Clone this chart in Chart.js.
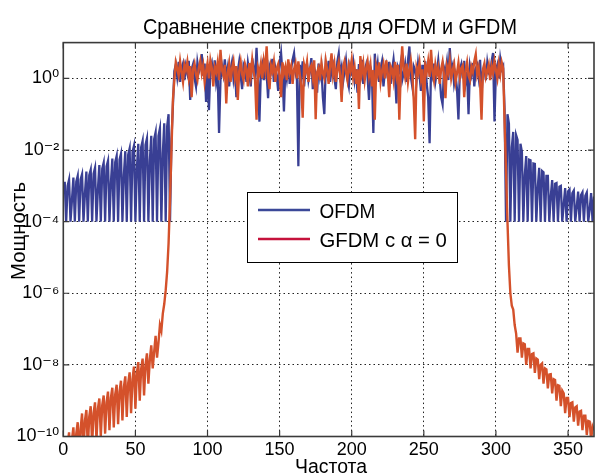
<!DOCTYPE html>
<html><head><meta charset="utf-8">
<script src="https://cdn.jsdelivr.net/npm/chart.js@4.4.0/dist/chart.umd.min.js"></script>
<style>html,body{margin:0;padding:0;background:#fff;}#wrap{width:596px;height:475px;}</style>
</head><body><div id="wrap"><canvas id="c" width="596" height="475"></canvas></div>
<script>
// ---- texts ----
const chartTitle = "Сравнение спектров для OFDM и GFDM";
const xAxisTitle = "Частота";
const yAxisTitle = "Мощность";
const seriesNames = ["OFDM", "GFDM с α = 0"];

// ---- ticks ----
const xTicks = [0, 50, 100, 150, 200, 250, 300, 350];
const yTicks = [1e-10, 1e-8, 1e-6, 1e-4, 1e-2, 1e0];
const yTickLabels = ["10⁻¹⁰", "10⁻⁸", "10⁻⁶", "10⁻⁴", "10⁻²", "10⁰"];

// ---- frequency bins (categories) 1..368 ----
const freq = [];
for (let i = 1; i <= 368; i++) freq.push(i);

// ---- OFDM spectrum ----
const ofdmLeft = [1.3e-3,1e-4,1.0e-3, 1.5e-3,1e-4,4e-4, 1.7e-3,1e-4,1.3e-3, 1.9e-3,1e-4,1.5e-3, 2.1e-3,1e-4,6e-4,
  2.5e-3,1e-4,2.0e-3, 2.8e-3,1e-4,2.2e-3, 3.2e-3,1e-4,8e-4, 3.8e-3,1e-4,3.0e-3, 4.4e-3,1e-4,3.5e-3,
  5.0e-3,1e-4,1.2e-3, 5.8e-3,1e-4,4.6e-3, 6.8e-3,1e-4,5.4e-3, 7.9e-3,1e-4,2e-3, 9.3e-3,1e-4,7.4e-3,
  1.1e-2,1e-4,8.8e-3, 1.3e-2,1e-4,3e-3, 1.5e-2,1e-4,1.2e-2, 1.8e-2,1e-4,1.4e-2, 2.1e-2,1e-4,5e-3,
  2.5e-2,1e-4,2e-2, 3.1e-2,1e-4,2.5e-2, 4.0e-2,1e-4,8e-3, 5.6e-2,1e-4,4.5e-2, 1.0e-1,1e-4,2e-2, 0.17];
const ofdmBand = [
  1.6,2.4,1.1,2.9,0.8,1.9,2.6,0.9,2.2,1.4,
  3.1,0.25,1.8,2.5,1.0,0.6,2.8,1.5,2.0,4.8,
  1.2,2.6,0.22,1.7,0.13,1.9,2.7,1.0,3.2,0.8,
  1.5,0.03,0.9,2.3,1.3,3.4,1.1,2.0,0.6,1.8,
  2.9,1.0,2.2,0.3,1.6,3.0,1.2,0.5,2.4,1.9,
  0.8,2.7,1.4,0.6,3.6,1.9,1.1,7.1,0.9,0.062,
  1.7,2.5,0.9,3.2,1.4,0.28,2.2,1.6,3.5,0.8,
  2.0,1.2,0.45,2.6,5.1,1.3,0.12,2.1,1.0,2.8,
  0.7,1.9,3.3,5.0,1.5,0.9,0.0035,2.4,1.1,3.0,
  0.6,1.8,2.5,0.9,1.6,3.7,0.5,2.0,1.3,0.4,
  2.6,1.1,1.9,0.3,0.1,2.3,1.4,3.1,0.8,1.7,
  2.4,1.0,0.5,2.9,5.0,1.3,2.1,0.8,1.6,3.2,
  1.0,0.6,2.2,1.5,2.8,0.9,1.8,0.4,2.5,1.2,
  3.3,0.7,1.6,2.4,1.1,0.25,2.0,1.4,0.03,4.9,
  1.3,2.6,0.8,1.9,3.0,0.6,1.5,2.3,1.0,2.9,
  0.7,1.7,3.4,1.2,0.2,2.1,1.6,2.8,0.9,1.4,
  2.5,0.8,3.1,7.8,1.1,0.6,2.2,1.7,0.9,2.7,
  1.3,0.45,2.4,1.0,3.0,0.7,0.3,0.0155,1.9,1.2,
  2.6,0.8,1.5,3.2,1.1,0.3,0.19,2.0,1.4,2.9,
  0.9,7.0,1.6,2.3,0.7,1.2,0.5,0.071,1.8,2.5,
  1.0,3.1,0.8,1.5,0.1,2.2,1.3,2.7,0.6,1.9,
  2.4,1.1,3.3,0.35,1.6,2.0,0.9,2.8,1.4,1.2,
  3.0,5.1,0.063,1.7,2.4,1.0,3.5,1.8,2.2];
const ofdmRight = [0.13,1e-4,0.1, 5.5e-2,1e-4,1.2e-2, 3.2e-2,1e-4,2.6e-2, 1.9e-2,1e-4,1.5e-2, 8.9e-3,1e-4,2e-3,
  6.8e-3,1e-4,5.4e-3, 5.2e-3,1e-4,4.2e-3, 4.1e-3,1e-4,9e-4, 3.2e-3,1e-4,2.6e-3, 2.4e-3,1e-4,1.9e-3,
  1.9e-3,1e-4,5e-4, 1.45e-3,1e-4,1.15e-3, 1.2e-3,1e-4,9.5e-4, 1.0e-3,1e-4,3e-4, 8.7e-4,1e-4,7e-4,
  7.9e-4,1e-4,6.3e-4, 7.4e-4,1e-4,2.5e-4, 6.9e-4,1e-4,5.5e-4, 6.6e-4,1e-4,5.3e-4, 6.5e-4,1e-4,2.2e-4, 6.3e-4,1e-4,5e-4];

// ---- GFDM (alpha = 0) spectrum ----
const gfdmLeft = [9e-11,1.6e-11,6e-11, 1.3e-10,2e-11,8e-11, 1.8e-10,2.5e-11,1.2e-10, 2.5e-10,3e-11,1.6e-10,
  4.4e-10,4e-11,2.8e-10, 5.5e-10,5e-11,3.6e-10, 7e-10,6e-11,4.5e-10, 9e-10,8e-11,6e-10, 1.15e-9,1e-10,7.5e-10,
  1.4e-9,1.2e-10,9e-10, 1.8e-9,1.5e-10,1.2e-9, 2.3e-9,1.8e-10,1.5e-9, 2.8e-9,2.2e-10,1.8e-9, 3.6e-9,2.8e-10,2.4e-9,
  4.8e-9,3.5e-10,3.1e-9, 6.2e-9,4.5e-10,4e-9, 9e-9,6e-10,5.8e-9, 1.2e-8,1e-9,7.8e-9, 1.5e-8,1.4e-9,1e-8,
  2.1e-8,3e-9,1.4e-8, 3.5e-8,8e-9,2.3e-8, 6.5e-8,1.6e-8,4.2e-8, 1.3e-7,9e-8,2.7e-7, 5e-7,1.2e-6,4e-6,
  2.5e-5,4e-4,1e-2, 0.25];
const gfdmBand = [
  0.9,2.8,1.9,1.2,3.0,1.5,0.8,2.4,1.7,2.9,
  1.1,2.2,0.3,1.8,2.6,1.3,0.9,2.0,3.1,1.4,
  2.3,0.8,1.6,2.7,1.0,3.2,1.9,0.6,2.1,1.5,
  2.8,0.9,6.3,1.7,1.2,2.4,0.2,1.4,2.6,0.8,
  1.9,3.0,1.1,2.2,0.25,1.6,2.9,1.3,0.9,2.5,
  1.8,0.6,2.7,1.2,3.3,1.5,0.9,0.07,2.0,1.4,
  2.6,1.0,3.1,1.7,7.9,1.1,0.5,2.3,1.6,2.9,
  0.8,1.9,2.5,1.2,0.3,2.8,1.4,2.1,0.9,3.4,
  1.5,2.2,0.7,1.8,2.6,1.0,3.0,1.3,0.6,0.08,
  2.4,1.6,2.9,0.8,1.9,2.3,1.1,3.2,0.072,1.5,
  2.0,0.9,2.7,1.4,1.0,3.1,1.7,0.7,2.2,5.0,
  1.3,2.5,0.8,1.8,2.8,1.2,0.22,2.1,3.0,1.5,
  0.9,2.4,1.6,3.3,1.1,2.0,0.7,1.8,0.14,4.2,
  1.4,2.6,0.9,1.9,3.0,1.2,2.3,0.6,1.7,0.07,
  2.1,1.3,2.8,0.8,1.6,2.5,1.0,3.2,1.4,0.3,
  2.2,1.8,0.9,2.9,1.2,2.4,0.07,1.5,7.9,1.9,
  1.1,2.6,0.8,1.7,3.1,1.3,0.25,0.02,2.0,1.4,
  2.7,1.0,1.8,0.063,2.3,1.5,3.0,1.1,6.3,1.6,
  0.9,2.4,1.3,2.0,0.7,1.8,2.9,1.2,0.28,2.2,
  1.5,3.1,1.0,1.7,2.5,0.8,1.4,2.7,1.1,1.9,
  2.3,0.3,1.6,2.8,1.2,0.9,2.1,1.5,3.0,4.7,
  1.3,2.0,0.8,0.07,1.8,2.6,1.1,1.6,2.4,0.9,
  2.2,1.4,3.0,1.7,1.0,2.5,1.3,2.8,1.9];
const gfdmRight = [0.06,2.5e-3,1e-4,6e-6,1e-6,4.5e-7,3.5e-7,1.3e-7,
  7.5e-8,2.2e-8,5.5e-8, 5.5e-8,1.6e-8,4e-8, 3.8e-8,1e-8,2.8e-8, 2.8e-8,8e-9,2e-8, 2.1e-8,6e-9,1.5e-8,
  1.4e-8,4e-9,1e-8, 1.1e-8,3e-9,8e-9, 7.5e-9,2.2e-9,5.4e-9, 5.5e-9,1.6e-9,4e-9, 3.8e-9,1e-9,2.7e-9,
  2.6e-9,7e-10,1.9e-9, 1.6e-9,4.5e-10,1.2e-9, 1.2e-9,3.5e-10,8.6e-10, 9e-10,2.6e-10,6.5e-10, 7e-10,2e-10,5e-10,
  5.2e-10,1.5e-10,3.8e-10, 3.8e-10,1.1e-10,2.7e-10, 2.6e-10,8e-11,1.9e-10, 1.5e-10];

const ofdm = [...ofdmLeft, ...ofdmBand, ...ofdmRight];
const gfdm = [...gfdmLeft, ...gfdmBand, ...gfdmRight];

// ---- style ----
const FONT = "'Liberation Sans', Arial, 'DejaVu Sans', sans-serif";
const blueLine = '#393f94';
const redLine = '#d4512b';
const legendBlue = '#3b4898';
const legendRed = '#c5123b';

function fitText(ctx, text, x, y, w, size, align, rot) {
  ctx.save();
  ctx.font = size + 'px ' + FONT;
  ctx.fillStyle = '#000';
  ctx.textBaseline = 'alphabetic';
  ctx.textAlign = 'left';
  const m = ctx.measureText(text).width;
  const sx = w / m;
  ctx.translate(x, y);
  if (rot) ctx.rotate(rot);
  ctx.scale(sx, 1);
  const off = align === 'center' ? -m / 2 : 0;
  ctx.fillText(text, off, 0);
  ctx.restore();
}

const decorPlugin = {
  id: 'decor',
  afterDraw(chart) {
    const ctx = chart.ctx, a = chart.chartArea;
    const xs = chart.scales.x, ys = chart.scales.y;
    ctx.save();
    ctx.strokeStyle = '#3a3a3a';
    ctx.lineWidth = 1.6;
    ctx.strokeRect(a.left, a.top, a.right - a.left, a.bottom - a.top);
    ctx.lineWidth = 1.2;
    ctx.beginPath();
    xTicks.forEach(v => {
      const p = xs.getPixelForValue(v);
      ctx.moveTo(p, a.bottom); ctx.lineTo(p, a.bottom - 6);
      ctx.moveTo(p, a.top); ctx.lineTo(p, a.top + 6);
    });
    yTicks.forEach(v => {
      const p = ys.getPixelForValue(v);
      ctx.moveTo(a.left, p); ctx.lineTo(a.left + 6, p);
      ctx.moveTo(a.right, p); ctx.lineTo(a.right - 6, p);
    });
    ctx.stroke();
    ctx.restore();

    fitText(ctx, chartTitle, 330, 33.5, 374, 22, 'center');
    fitText(ctx, xAxisTitle, 331, 473, 72, 20, 'center');
    fitText(ctx, yAxisTitle, 24.5, 231, 98, 20, 'center', -Math.PI / 2);

    ctx.save();
    ctx.fillStyle = '#fff';
    ctx.fillRect(247.5, 192.5, 210, 70);
    ctx.strokeStyle = '#000';
    ctx.lineWidth = 1;
    ctx.strokeRect(247.5, 192.5, 210, 70);
    ctx.lineWidth = 2.7;
    ctx.lineCap = 'butt';
    ctx.strokeStyle = legendBlue;
    ctx.beginPath(); ctx.moveTo(258, 210); ctx.lineTo(310, 210); ctx.stroke();
    ctx.strokeStyle = legendRed;
    ctx.beginPath(); ctx.moveTo(258, 239); ctx.lineTo(310, 239); ctx.stroke();
    ctx.restore();
    fitText(ctx, seriesNames[0], 319.5, 217.5, 55.7, 20, 'left');
    fitText(ctx, seriesNames[1], 319.5, 246.5, 127.4, 20, 'left');
  }
};

new Chart(document.getElementById('c'), {
  type: 'line',
  data: {
    datasets: [
      { label: seriesNames[1], data: freq.map((f, i) => ({ x: f, y: gfdm[i] })),
        borderColor: redLine, borderWidth: 2.4, pointRadius: 0, tension: 0, fill: false, order: 0 },
      { label: seriesNames[0], data: freq.map((f, i) => ({ x: f, y: ofdm[i] })),
        borderColor: blueLine, borderWidth: 2.3, pointRadius: 0, tension: 0, fill: false, order: 1 }
    ]
  },
  options: {
    responsive: false,
    animation: false,
    devicePixelRatio: 1,
    events: [],
    layout: { padding: { top: 42.6, right: 2, left: 0, bottom: 0 } },
    plugins: { legend: { display: false }, title: { display: false }, tooltip: { enabled: false } },
    scales: {
      x: {
        type: 'linear', min: 0, max: 368,
        afterBuildTicks: s => { s.ticks = xTicks.map(v => ({ value: v })); },
        afterFit: s => { s.height = 38.5; },
        ticks: { autoSkip: false, maxRotation: 0, padding: 3, color: '#000',
                 font: { family: FONT, size: 18 } },
        grid: { color: '#222', lineWidth: 1, drawTicks: false },
        border: { display: false, dash: [1.5, 3] }
      },
      y: {
        type: 'logarithmic', min: 1e-10, max: 10,
        afterBuildTicks: s => { s.ticks = yTicks.map(v => ({ value: v })); },
        afterFit: s => { s.width = 63.3; },
        ticks: { autoSkip: false, padding: 4, color: '#000',
                 font: { family: FONT, size: 18 },
                 callback: (v) => { const k = yTicks.indexOf(v); return k >= 0 ? yTickLabels[k] : ''; } },
        grid: { color: '#222', lineWidth: 1, drawTicks: false },
        border: { display: false, dash: [1.5, 3] }
      }
    }
  },
  plugins: [decorPlugin]
});
</script>
</body></html>
